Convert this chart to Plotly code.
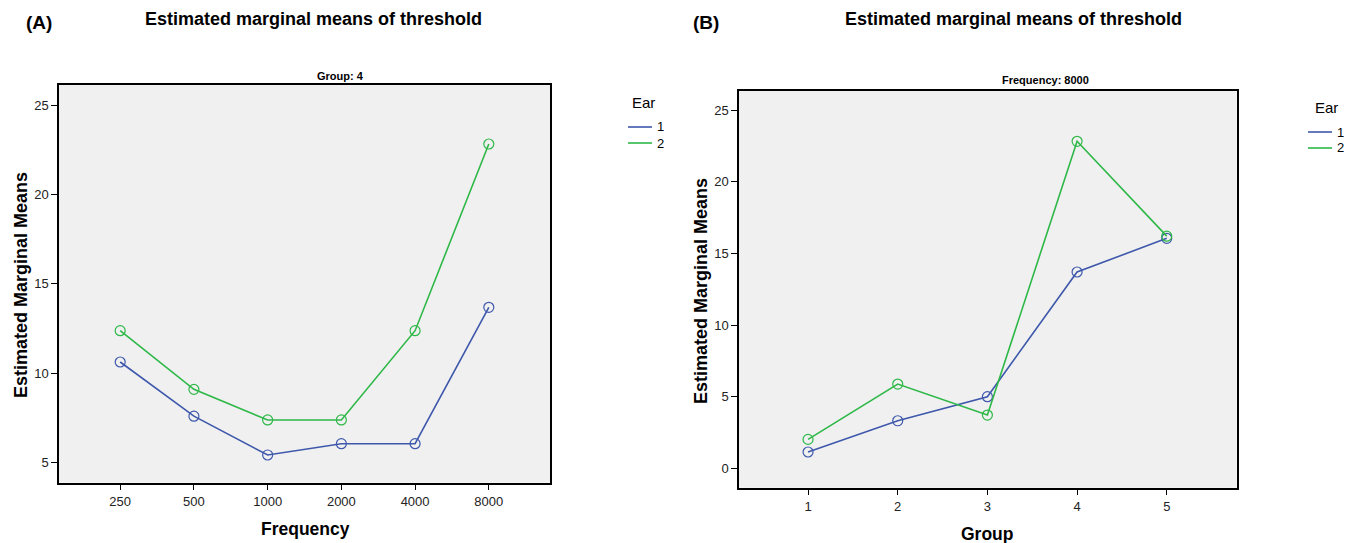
import plotly.graph_objects as go

# ---- data ----
freq_labels = ["250", "500", "1000", "2000", "4000", "8000"]
a_ear1 = [10.63, 7.60, 5.43, 6.06, 6.06, 13.69]
a_ear2 = [12.38, 9.10, 7.39, 7.39, 12.38, 22.82]

groups = [1, 2, 3, 4, 5]
b_ear1 = [1.14, 3.32, 5.00, 13.70, 16.05]
b_ear2 = [2.02, 5.88, 3.72, 22.82, 16.20]

ear_names = ["1", "2"]
BLUE = "#3e58ac"
GREEN = "#2eb848"
FONT = "Arial, Liberation Sans, sans-serif"
W, H = 1355, 543

fig = go.Figure()

def add_line(x, y, color, xa, ya):
    fig.add_trace(go.Scatter(
        x=x, y=y, mode="lines+markers", xaxis=xa, yaxis=ya,
        line=dict(color=color, width=1.6),
        marker=dict(symbol="circle-open", size=10, color=color, line=dict(width=1.2, color=color)),
        showlegend=False, hoverinfo="x+y"))

add_line(freq_labels, a_ear1, BLUE, "x", "y")
add_line(freq_labels, a_ear2, GREEN, "x", "y")
add_line(groups, b_ear1, BLUE, "x2", "y2")
add_line(groups, b_ear2, GREEN, "x2", "y2")

axis_common = dict(showgrid=False, zeroline=False, showline=True, linecolor="black", linewidth=1.5,
                   mirror=True, ticks="outside", tickcolor="black", tickwidth=1.2, automargin=False,
                   tickfont=dict(family=FONT, size=13, color="#222"))

def px_x(px):
    return px / W

def px_y(px):
    return 1 - px / H

fig.update_layout(
    width=W, height=H,
    margin=dict(l=0, r=0, t=0, b=0),
    paper_bgcolor="white",
    plot_bgcolor="#f0f0f0",
    font=dict(family=FONT, color="black"),
    xaxis=dict(axis_common, type="category", domain=[px_x(59), px_x(550)], range=[-0.83, 5.83],
               ticklen=6, anchor="y"),
    yaxis=dict(axis_common, domain=[px_y(482.7), px_y(85)], range=[3.88, 26.12], anchor="x",
               tickvals=[5, 10, 15, 20, 25], ticklen=6),
    xaxis2=dict(axis_common, domain=[px_x(739), px_x(1236.7)], range=[0.23, 5.78], anchor="y2",
                tickvals=groups, ticklen=6),
    yaxis2=dict(axis_common, domain=[px_y(487.7), px_y(90.7)], range=[-1.35, 26.35], anchor="x2",
                tickvals=[0, 5, 10, 15, 20, 25], ticklen=6),
)

def ann(text, x, y, size, bold=False, xanchor="center", angle=0):
    fig.add_annotation(text=f"<b>{text}</b>" if bold else text, x=px_x(x), y=px_y(y),
                       xref="paper", yref="paper", showarrow=False,
                       xanchor=xanchor, yanchor="middle", textangle=angle,
                       font=dict(family=FONT, size=size, color="black"))

# headings
ann("(A)", 39, 22, 19, bold=True)
ann("Estimated marginal means of threshold", 313, 19, 18, bold=True)
ann("(B)", 706, 22, 19, bold=True)
ann("Estimated marginal means of threshold", 1013, 19, 18, bold=True)
ann("Group: 4", 340, 76, 11, bold=True)
ann("Frequency: 8000", 1045, 80, 11, bold=True)

# axis titles
ann("Estimated Marginal Means", 21, 285, 18, bold=True, angle=-90)
ann("Frequency", 305, 529, 17.5, bold=True)
ann("Estimated Marginal Means", 701, 291, 18, bold=True, angle=-90)
ann("Group", 987, 534, 17.5, bold=True)

# legends
def legend(cx, ty, x0, x1, ys, lx):
    ann("Ear", cx, ty, 15)
    for name, yy, col in zip(ear_names, ys, [BLUE, GREEN]):
        fig.add_shape(type="line", xref="paper", yref="paper",
                      x0=px_x(x0), x1=px_x(x1), y0=px_y(yy), y1=px_y(yy),
                      line=dict(color=col, width=1.6))
        ann(name, lx, yy, 13, xanchor="left")

legend(643, 103, 628, 652, [127, 143], 655)
legend(1326, 107, 1308, 1332, [132, 148], 1335)

fig.write_html("out.html", config={"displayModeBar": False},
               post_script="document.body.style.margin='0';document.body.style.overflow='hidden';")
